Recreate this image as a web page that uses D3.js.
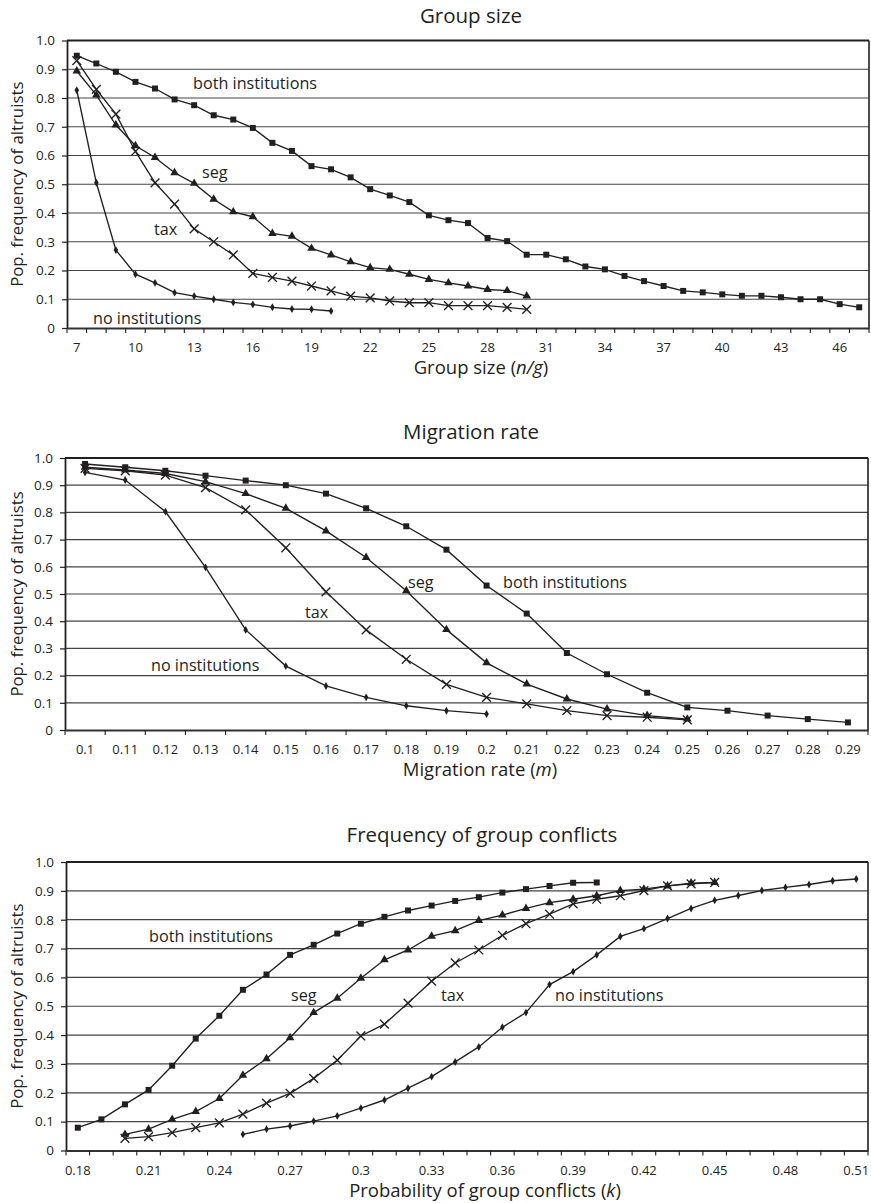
<!DOCTYPE html>
<html>
<head>
<meta charset="utf-8">
<script src="https://cdn.jsdelivr.net/npm/d3@7"></script>
<style>
  body { margin: 0; background: #fff; }
  svg { display: block; }
  text { font-family: "Open Sans", sans-serif; fill: #231f20; }
</style>
</head>
<body>
<svg id="chart" width="871" height="1203"></svg>
<script>
// ---- Categories on each x axis ----
const groupSizes = ["7","8","9","10","11","12","13","14","15","16","17","18","19","20","21","22","23","24","25","26","27","28","29","30","31","32","33","34","35","36","37","38","39","40","41","42","43","44","45","46","47"];
const migrationRates = ["0.1","0.11","0.12","0.13","0.14","0.15","0.16","0.17","0.18","0.19","0.2","0.21","0.22","0.23","0.24","0.25","0.26","0.27","0.28","0.29"];
const conflictProbs = ["0.18","0.19","0.2","0.21","0.22","0.23","0.24","0.25","0.26","0.27","0.28","0.29","0.3","0.31","0.32","0.33","0.34","0.35","0.36","0.37","0.38","0.39","0.4","0.41","0.42","0.43","0.44","0.45","0.46","0.47","0.48","0.49","0.5","0.51"];

// ---- Tick labels ----
const groupSizeTicks = ["7","10","13","16","19","22","25","28","31","34","37","40","43","46"];
const migrationTicks = migrationRates;
const conflictTicks = ["0.18","0.21","0.24","0.27","0.3","0.33","0.36","0.39","0.42","0.45","0.48","0.51"];
const yTickValues = [0, 0.1, 0.2, 0.3, 0.4, 0.5, 0.6, 0.7, 0.8, 0.9, 1.0];
const yTickLabels = ["0","0.1","0.2","0.3","0.4","0.5","0.6","0.7","0.8","0.9","1.0"];

// ---- Group size panel (values from n/g = 7 upward) ----
const gsBoth = [0.947,0.920,0.891,0.856,0.833,0.795,0.775,0.740,0.725,0.696,0.644,0.616,0.563,0.552,0.524,0.483,0.461,0.438,0.392,0.375,0.365,0.313,0.302,0.255,0.255,0.239,0.214,0.204,0.181,0.163,0.146,0.129,0.124,0.117,0.112,0.112,0.107,0.100,0.100,0.083,0.072];
const gsSeg  = [0.894,0.810,0.706,0.634,0.593,0.540,0.503,0.448,0.404,0.387,0.329,0.319,0.277,0.254,0.230,0.210,0.204,0.187,0.169,0.157,0.146,0.134,0.130,0.111];
const gsTax  = [0.930,0.830,0.744,0.614,0.505,0.431,0.345,0.300,0.254,0.190,0.176,0.163,0.146,0.129,0.111,0.105,0.094,0.088,0.088,0.078,0.078,0.078,0.072,0.065];
const gsNone = [0.827,0.505,0.271,0.187,0.157,0.123,0.111,0.100,0.089,0.082,0.072,0.066,0.065,0.059];

// ---- Migration rate panel (values from m = 0.1 upward) ----
const mrBoth = [0.978,0.966,0.953,0.935,0.917,0.900,0.869,0.815,0.749,0.663,0.531,0.428,0.283,0.205,0.137,0.083,0.071,0.053,0.040,0.028];
const mrSeg  = [0.966,0.956,0.943,0.913,0.869,0.815,0.732,0.634,0.512,0.369,0.247,0.169,0.114,0.077,0.053,0.040];
const mrTax  = [0.962,0.953,0.937,0.891,0.809,0.670,0.508,0.368,0.260,0.168,0.120,0.096,0.071,0.053,0.047,0.037];
const mrNone = [0.947,0.919,0.803,0.598,0.368,0.235,0.162,0.120,0.089,0.071,0.059];

// ---- Group conflict panel (values from k = 0.18 upward; null = not run) ----
const gcBoth = [0.079,0.108,0.160,0.210,0.294,0.388,0.467,0.557,0.610,0.678,0.713,0.752,0.786,0.810,0.832,0.849,0.865,0.878,0.894,0.906,0.917,0.928,0.929];
const gcSeg  = [null,null,0.056,0.074,0.108,0.135,0.180,0.261,0.318,0.391,0.478,0.528,0.597,0.661,0.695,0.743,0.762,0.797,0.816,0.839,0.859,0.871,0.883,0.901,0.906,0.917,0.927,0.929];
const gcTax  = [null,null,0.042,0.048,0.062,0.079,0.096,0.126,0.164,0.198,0.250,0.313,0.397,0.438,0.511,0.587,0.650,0.695,0.746,0.786,0.819,0.855,0.871,0.883,0.901,0.917,0.924,0.929];
const gcNone = [null,null,null,null,null,null,null,0.056,0.074,0.085,0.102,0.120,0.147,0.175,0.216,0.256,0.307,0.359,0.427,0.478,0.575,0.620,0.678,0.742,0.769,0.804,0.839,0.867,0.884,0.901,0.912,0.922,0.935,0.941];

const svg = d3.select("#chart");
const ink = "#231f20";

// Plot symbols for the four regimes
const markers = {
  square:   { type: d3.symbolSquare,   size: 36, fill: ink,    stroke: "none", sw: 0 },
  triangle: { type: d3.symbolTriangle, size: 32, fill: ink,    stroke: "none", sw: 0 },
  cross:    { type: d3.symbolX,        size: 52, fill: "none", stroke: ink,    sw: 1.35 },
  diamond:  { type: d3.symbolDiamond,  size: 18, fill: ink,    stroke: "none", sw: 0 }
};

const panels = [
  {
    title: "Group size", titleX: 471, titleY: 16,
    xTitle: ["Group size (", "n/g", ")"], xTitleX: 481,
    box: { left: 67, right: 869, top: 40.5, bottom: 328 },
    cats: groupSizes, ticks: groupSizeTicks,
    series: [
      { values: gsBoth, marker: "square" },
      { values: gsSeg,  marker: "triangle" },
      { values: gsTax,  marker: "cross" },
      { values: gsNone, marker: "diamond" }
    ],
    notes: [
      { text: "both institutions", x: 193, y: 83 },
      { text: "seg", x: 202, y: 172 },
      { text: "tax", x: 154, y: 229 },
      { text: "no institutions", x: 93, y: 318 }
    ]
  },
  {
    title: "Migration rate", titleX: 471, titleY: 432,
    xTitle: ["Migration rate (", "m", ")"], xTitleX: 480,
    box: { left: 65, right: 868, top: 458, bottom: 730 },
    cats: migrationRates, ticks: migrationTicks,
    series: [
      { values: mrBoth, marker: "square" },
      { values: mrSeg,  marker: "triangle" },
      { values: mrTax,  marker: "cross" },
      { values: mrNone, marker: "diamond" }
    ],
    notes: [
      { text: "no institutions", x: 151, y: 665 },
      { text: "tax", x: 305, y: 612 },
      { text: "seg", x: 408, y: 582 },
      { text: "both institutions", x: 503, y: 582 }
    ]
  },
  {
    title: "Frequency of group conflicts", titleX: 482, titleY: 835,
    xTitle: ["Probability of group conflicts (", "k", ")"], xTitleX: 485,
    box: { left: 66, right: 868, top: 862, bottom: 1150.5 },
    cats: conflictProbs, ticks: conflictTicks,
    series: [
      { values: gcBoth, marker: "square" },
      { values: gcSeg,  marker: "triangle" },
      { values: gcTax,  marker: "cross" },
      { values: gcNone, marker: "diamond" }
    ],
    notes: [
      { text: "both institutions", x: 149, y: 936 },
      { text: "seg", x: 291, y: 995 },
      { text: "tax", x: 441, y: 995 },
      { text: "no institutions", x: 555, y: 995 }
    ]
  }
];

panels.forEach(p => {
  const b = p.box;
  const x = d3.scaleBand().domain(p.cats).range([b.left, b.right]).padding(0);
  const y = d3.scaleLinear().domain([0, 1]).range([b.bottom, b.top]);
  const cx = c => x(c) + x.bandwidth() / 2;
  const g = svg.append("g");

  // horizontal gridlines
  g.append("g").selectAll("line")
    .data(yTickValues.filter(v => v > 0 && v < 1))
    .join("line")
    .attr("x1", b.left).attr("x2", b.right)
    .attr("y1", d => y(d)).attr("y2", d => y(d))
    .attr("stroke", "#444").attr("stroke-width", 1.2);

  // frame: top and right edges
  g.append("line").attr("x1", b.left).attr("x2", b.right)
    .attr("y1", y(1)).attr("y2", y(1))
    .attr("stroke", ink).attr("stroke-width", 2);
  g.append("line").attr("x1", b.right).attr("x2", b.right)
    .attr("y1", y(1)).attr("y2", y(0))
    .attr("stroke", ink).attr("stroke-width", 1.6);

  // y axis
  const yAxis = d3.axisLeft(y)
    .tickValues(yTickValues)
    .tickFormat((d, i) => yTickLabels[i])
    .tickSize(5).tickPadding(7).tickSizeOuter(0);
  const ya = g.append("g").attr("transform", `translate(${b.left},0)`).call(yAxis);
  ya.select(".domain").attr("stroke", ink).attr("stroke-width", 1.8);
  ya.selectAll(".tick line").attr("stroke", ink).attr("stroke-width", 1.2);
  ya.selectAll(".tick text").attr("font-size", 13.5).attr("fill", ink)
    .attr("font-family", '"Open Sans", sans-serif');

  // x axis: labels centred in categories, ticks on category boundaries
  const xAxis = d3.axisBottom(x).tickValues(p.ticks).tickSize(0).tickPadding(15).tickSizeOuter(0);
  const xa = g.append("g").attr("transform", `translate(0,${b.bottom})`).call(xAxis);
  xa.select(".domain").attr("stroke", "#333").attr("stroke-width", 1.8);
  xa.selectAll(".tick text").attr("font-size", 13).attr("fill", ink)
    .attr("font-family", '"Open Sans", sans-serif');
  const bounds = p.cats.map(c => x(c)).concat([x.range()[1]]);
  g.append("g").selectAll("line").data(bounds).join("line")
    .attr("x1", d => d).attr("x2", d => d)
    .attr("y1", b.bottom).attr("y2", b.bottom + 5)
    .attr("stroke", ink).attr("stroke-width", 1.1);

  // series lines and markers
  p.series.forEach(s => {
    const pts = s.values.map((v, i) => ({ c: p.cats[i], v })).filter(d => d.v != null);
    const line = d3.line().x(d => cx(d.c)).y(d => y(d.v));
    g.append("path").datum(pts).attr("d", line)
      .attr("fill", "none").attr("stroke", ink).attr("stroke-width", 1.35);
    const m = markers[s.marker];
    const sym = d3.symbol().type(m.type).size(m.size);
    g.append("g").selectAll("path").data(pts).join("path")
      .attr("transform", d => `translate(${cx(d.c)},${y(d.v)})`)
      .attr("d", sym)
      .attr("fill", m.fill).attr("stroke", m.stroke).attr("stroke-width", m.sw);
  });

  // regime labels
  g.append("g").selectAll("text").data(p.notes).join("text")
    .attr("x", d => d.x).attr("y", d => d.y).attr("dy", "0.35em")
    .attr("font-size", 16.2).text(d => d.text);

  // panel title
  g.append("text").attr("x", p.titleX).attr("y", p.titleY).attr("dy", "0.35em")
    .attr("text-anchor", "middle").attr("font-size", 20.5).text(p.title);

  // x axis title with italic parameter symbol
  const xt = g.append("text").attr("x", p.xTitleX).attr("y", b.bottom + 40).attr("dy", "0.35em")
    .attr("text-anchor", "middle").attr("font-size", 18.5);
  xt.append("tspan").text(p.xTitle[0]);
  xt.append("tspan").attr("font-style", "italic").text(p.xTitle[1]);
  xt.append("tspan").text(p.xTitle[2]);

  // y axis title
  g.append("text")
    .attr("transform", `translate(17,${(b.top + b.bottom) / 2}) rotate(-90)`)
    .attr("dy", "0.35em").attr("text-anchor", "middle").attr("font-size", 16.8)
    .text("Pop. frequency of altruists");
});
</script>
</body>
</html>
